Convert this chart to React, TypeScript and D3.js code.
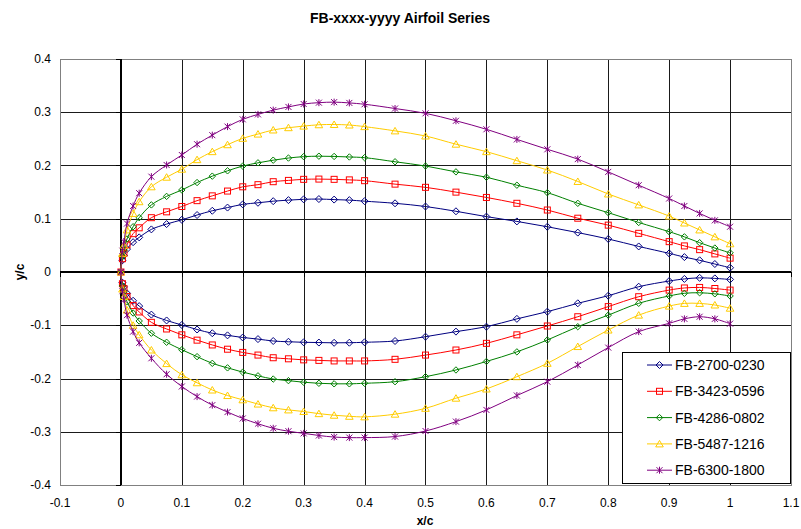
import React, { useEffect, useRef } from 'react';
import * as d3 from 'd3';

// chord stations (x/c) shared by all profiles
const stations = [0, 0.0025, 0.005, 0.01, 0.02, 0.03, 0.05, 0.075, 0.1, 0.125, 0.15, 0.175, 0.2, 0.225, 0.25, 0.275, 0.3, 0.325, 0.35, 0.375, 0.4, 0.45, 0.5, 0.55, 0.6, 0.65, 0.7, 0.75, 0.8, 0.85, 0.9, 0.925, 0.95, 0.975, 1];

// upper / lower surface y/c
const upper2700 = [0, 0.022, 0.031, 0.043, 0.056, 0.065, 0.08, 0.09, 0.098, 0.107, 0.115, 0.121, 0.127, 0.130, 0.133, 0.135, 0.1365, 0.137, 0.136, 0.135, 0.133, 0.129, 0.123, 0.114, 0.104, 0.095, 0.085, 0.074, 0.062, 0.048, 0.035, 0.028, 0.022, 0.015, 0.008];
const lower2700 = [0, -0.02, -0.028, -0.04, -0.054, -0.064, -0.08, -0.091, -0.0995, -0.108, -0.115, -0.119, -0.123, -0.126, -0.1296, -0.131, -0.132, -0.1325, -0.133, -0.1328, -0.132, -0.1296, -0.1215, -0.112, -0.1027, -0.088, -0.0745, -0.0588, -0.0445, -0.0276, -0.017, -0.013, -0.011, -0.012, -0.014];

const upper3423 = [0, 0.025, 0.035, 0.051, 0.072, 0.083, 0.102, 0.113, 0.123, 0.134, 0.143, 0.152, 0.16, 0.164, 0.1696, 0.172, 0.174, 0.1745, 0.174, 0.173, 0.1715, 0.165, 0.159, 0.15, 0.14, 0.129, 0.1164, 0.101, 0.088, 0.0726, 0.057, 0.049, 0.042, 0.034, 0.026];
const lower3423 = [0, -0.022, -0.031, -0.046, -0.063, -0.075, -0.0945, -0.107, -0.118, -0.128, -0.137, -0.145, -0.151, -0.156, -0.161, -0.163, -0.165, -0.166, -0.167, -0.167, -0.167, -0.164, -0.156, -0.1465, -0.134, -0.118, -0.1014, -0.084, -0.065, -0.0464, -0.034, -0.03, -0.029, -0.031, -0.034];

const upper4286 = [0, 0.029, 0.041, 0.062, 0.085, 0.102, 0.126, 0.142, 0.154, 0.168, 0.18, 0.19, 0.199, 0.205, 0.21, 0.214, 0.2166, 0.2175, 0.217, 0.216, 0.2147, 0.207, 0.199, 0.188, 0.178, 0.163, 0.149, 0.129, 0.1114, 0.093, 0.0757, 0.066, 0.055, 0.045, 0.036];
const lower4286 = [0, -0.026, -0.037, -0.0557, -0.077, -0.092, -0.115, -0.132, -0.146, -0.159, -0.1715, -0.18, -0.188, -0.195, -0.201, -0.204, -0.207, -0.209, -0.21, -0.21, -0.209, -0.206, -0.1966, -0.184, -0.168, -0.15, -0.1277, -0.1027, -0.081, -0.0588, -0.045, -0.04, -0.039, -0.041, -0.045];

const upper5487 = [0, 0.035, 0.05, 0.079, 0.11, 0.132, 0.16, 0.178, 0.193, 0.211, 0.226, 0.239, 0.251, 0.259, 0.2667, 0.271, 0.274, 0.2765, 0.277, 0.276, 0.273, 0.265, 0.2554, 0.24, 0.226, 0.209, 0.1915, 0.17, 0.1465, 0.126, 0.105, 0.092, 0.079, 0.066, 0.053];
const lower5487 = [0, -0.032, -0.046, -0.0714, -0.1, -0.118, -0.1465, -0.172, -0.193, -0.208, -0.2216, -0.232, -0.24, -0.248, -0.255, -0.259, -0.262, -0.266, -0.269, -0.271, -0.272, -0.267, -0.256, -0.237, -0.2197, -0.1966, -0.1715, -0.14, -0.109, -0.081, -0.064, -0.059, -0.059, -0.062, -0.068];

const upper6300 = [0, 0.04, 0.057, 0.091, 0.124, 0.148, 0.179, 0.201, 0.2197, 0.24, 0.257, 0.273, 0.2867, 0.296, 0.304, 0.31, 0.3155, 0.318, 0.319, 0.3175, 0.315, 0.307, 0.298, 0.284, 0.268, 0.249, 0.2304, 0.212, 0.188, 0.163, 0.138, 0.124, 0.11, 0.097, 0.085];
const lower6300 = [0, -0.036, -0.052, -0.081, -0.112, -0.133, -0.162, -0.192, -0.215, -0.234, -0.25, -0.263, -0.275, -0.285, -0.2935, -0.299, -0.303, -0.307, -0.31, -0.311, -0.311, -0.309, -0.2986, -0.281, -0.259, -0.232, -0.206, -0.1746, -0.142, -0.112, -0.0964, -0.088, -0.084, -0.088, -0.097];

const seriesNames = ['FB-2700-0230', 'FB-3423-0596', 'FB-4286-0802', 'FB-5487-1216', 'FB-6300-1800'];
const seriesColors = ['#000080', '#ff0000', '#008000', '#ffcc00', '#800080'];
const seriesMarkers = ['diamond', 'square', 'smallDiamond', 'triangle', 'star'];
const uppers = [upper2700, upper3423, upper4286, upper5487, upper6300];
const lowers = [lower2700, lower3423, lower4286, lower5487, lower6300];

const xTicks = [-0.1, 0, 0.1, 0.2, 0.3, 0.4, 0.5, 0.6, 0.7, 0.8, 0.9, 1, 1.1];
const xTickLabels = ['-0.1', '0', '0.1', '0.2', '0.3', '0.4', '0.5', '0.6', '0.7', '0.8', '0.9', '1', '1.1'];
const yTicks = [-0.4, -0.3, -0.2, -0.1, 0, 0.1, 0.2, 0.3, 0.4];
const yTickLabels = ['-0.4', '-0.3', '-0.2', '-0.1', '0', '0.1', '0.2', '0.3', '0.4'];

const FONT = '"Liberation Sans", Arial, sans-serif';

const drawMarker = (g, kind, color) => {
  if (kind === 'diamond' || kind === 'smallDiamond') {
    const s = kind === 'diamond' ? 3.5 : 3.2;
    g.append('path').attr('d', `M0,${-s}L${s},0L0,${s}L${-s},0Z`)
      .attr('fill', 'none').attr('stroke', color).attr('stroke-width', 1);
  } else if (kind === 'square') {
    g.append('rect').attr('x', -3).attr('y', -3).attr('width', 6).attr('height', 6)
      .attr('fill', 'none').attr('stroke', color).attr('stroke-width', 1);
  } else if (kind === 'triangle') {
    g.append('path').attr('d', 'M0,-3.5L3.8,3L-3.8,3Z')
      .attr('fill', 'none').attr('stroke', color).attr('stroke-width', 1);
  } else {
    g.append('path').attr('d', 'M-3,-3L3,3M-3,3L3,-3M0,-3.5L0,3.5')
      .attr('fill', 'none').attr('stroke', color).attr('stroke-width', 1);
  }
};

const App = () => {
  const svgRef = useRef(null);

  useEffect(() => {
    const width = 801;
    const height = 529;
    const svg = d3.select(svgRef.current).attr('width', width).attr('height', height);
    svg.selectAll('*').remove();

    const x = d3.scaleLinear().domain([-0.1, 1.1]).range([60, 791]);
    const y = d3.scaleLinear().domain([-0.4, 0.4]).range([485, 59]);

    svg.append('rect').attr('width', width).attr('height', height).attr('fill', '#fff');

    // title + axis titles
    svg.append('text').attr('x', 400).attr('y', 23).attr('text-anchor', 'middle')
      .attr('font-family', FONT).attr('font-size', 14).attr('font-weight', 'bold')
      .text('FB-xxxx-yyyy Airfoil Series');
    svg.append('text').attr('x', 425).attr('y', 525).attr('text-anchor', 'middle')
      .attr('font-family', FONT).attr('font-size', 12).attr('font-weight', 'bold').text('x/c');
    svg.append('text').attr('transform', 'translate(24,272) rotate(-90)').attr('text-anchor', 'middle')
      .attr('font-family', FONT).attr('font-size', 12).attr('font-weight', 'bold').text('y/c');

    // gridlines
    const grid = svg.append('g').attr('shape-rendering', 'crispEdges');
    xTicks.slice(1, -1).forEach(t => {
      grid.append('line').attr('x1', Math.round(x(t)) + 0.5).attr('x2', Math.round(x(t)) + 0.5)
        .attr('y1', y(0.4)).attr('y2', y(-0.4)).attr('stroke', '#1a1a1a').attr('stroke-width', 1);
    });
    yTicks.slice(1, -1).forEach(t => {
      grid.append('line').attr('y1', Math.round(y(t)) + 0.5).attr('y2', Math.round(y(t)) + 0.5)
        .attr('x1', x(-0.1)).attr('x2', x(1.1)).attr('stroke', '#1a1a1a').attr('stroke-width', 1);
    });
    grid.append('rect').attr('x', x(-0.1) + 0.5).attr('y', y(0.4) + 0.5)
      .attr('width', x(1.1) - x(-0.1)).attr('height', y(-0.4) - y(0.4))
      .attr('fill', 'none').attr('stroke', '#808080').attr('stroke-width', 1);

    // axes crossing at zero
    grid.append('line').attr('x1', x(-0.1)).attr('x2', x(1.1)).attr('y1', y(0)).attr('y2', y(0))
      .attr('stroke', '#000').attr('stroke-width', 2);
    grid.append('line').attr('x1', x(0)).attr('x2', x(0)).attr('y1', y(0.4)).attr('y2', y(-0.4))
      .attr('stroke', '#000').attr('stroke-width', 2);
    xTicks.forEach(t => {
      grid.append('line').attr('x1', Math.round(x(t)) + 0.5).attr('x2', Math.round(x(t)) + 0.5)
        .attr('y1', y(0)).attr('y2', y(0) + 5).attr('stroke', '#000');
    });
    yTicks.forEach(t => {
      grid.append('line').attr('y1', Math.round(y(t)) + 0.5).attr('y2', Math.round(y(t)) + 0.5)
        .attr('x1', x(0) - 5).attr('x2', x(0)).attr('stroke', '#000');
    });

    // tick labels
    xTicks.forEach((t, i) => {
      svg.append('text').attr('x', x(t)).attr('y', 507).attr('text-anchor', 'middle')
        .attr('font-family', FONT).attr('font-size', 12).attr('fill', '#000').text(xTickLabels[i]);
    });
    yTicks.forEach((t, i) => {
      svg.append('text').attr('x', 51).attr('y', y(t) + 4).attr('text-anchor', 'end')
        .attr('font-family', FONT).attr('font-size', 12).attr('fill', '#000').text(yTickLabels[i]);
    });

    // profiles: trailing edge upper -> leading edge -> trailing edge lower
    const line = d3.line().x(d => x(d[0])).y(d => y(d[1])).curve(d3.curveCatmullRom.alpha(0.5));
    seriesNames.forEach((name, si) => {
      const up = stations.map((s, i) => [s, uppers[si][i]]);
      const lo = stations.map((s, i) => [s, lowers[si][i]]);
      const pts = up.slice().reverse().concat(lo.slice(1));
      const g = svg.append('g');
      g.append('path').attr('d', line(pts)).attr('fill', 'none')
        .attr('stroke', seriesColors[si]).attr('stroke-width', 1);
      pts.forEach(p => {
        const m = g.append('g').attr('transform', `translate(${x(p[0])},${y(p[1])})`);
        drawMarker(m, seriesMarkers[si], seriesColors[si]);
      });
    });

    // legend
    const lg = svg.append('g');
    lg.append('rect').attr('x', 622.5).attr('y', 352.5).attr('width', 168).attr('height', 131)
      .attr('fill', '#fff').attr('stroke', '#000').attr('stroke-width', 1);
    seriesNames.forEach((name, si) => {
      const cy = 365 + si * 26.3;
      lg.append('line').attr('x1', 647).attr('x2', 672).attr('y1', cy).attr('y2', cy)
        .attr('stroke', seriesColors[si]).attr('stroke-width', 1);
      const m = lg.append('g').attr('transform', `translate(659.5,${cy})`);
      drawMarker(m, seriesMarkers[si], seriesColors[si]);
      lg.append('text').attr('x', 675).attr('y', cy + 5).attr('font-family', FONT)
        .attr('font-size', 14).attr('fill', '#000').text(name);
    });
  }, []);

  return (
    <svg ref={svgRef} style={{ position: 'absolute', left: 0, top: 0, display: 'block' }} />
  );
};

export default App;
